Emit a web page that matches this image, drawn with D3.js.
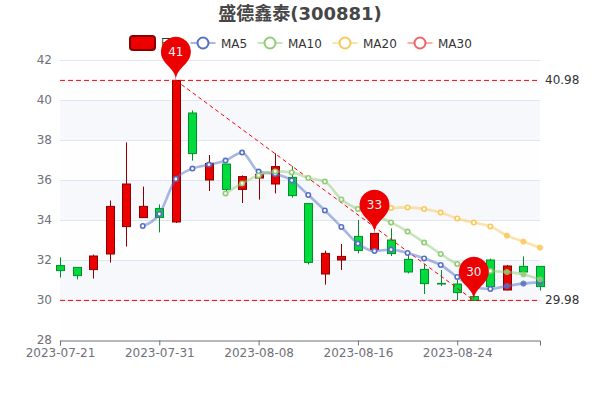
<!DOCTYPE html>
<html><head><meta charset="utf-8">
<script src="https://cdn.jsdelivr.net/npm/d3@7"></script>
<style>html,body{margin:0;padding:0;background:#fff}svg{display:block;font-family:"DejaVu Sans","Noto Sans CJK SC",sans-serif}</style>
</head><body><div id="c"></div>
<script>
const titleText = "盛德鑫泰(300881)";
const dates = ["2023-07-21","2023-07-24","2023-07-25","2023-07-26","2023-07-27","2023-07-28","2023-07-31","2023-08-01","2023-08-02","2023-08-03","2023-08-04","2023-08-07","2023-08-08","2023-08-09","2023-08-10","2023-08-11","2023-08-14","2023-08-15","2023-08-16","2023-08-17","2023-08-18","2023-08-21","2023-08-22","2023-08-23","2023-08-24","2023-08-25","2023-08-28","2023-08-29","2023-08-30","2023-08-31"];
const dateTicks = ["2023-07-21","2023-07-31","2023-08-08","2023-08-16","2023-08-24"];
const yTicks = [28,30,32,34,36,38,40,42];
const opens  = [31.72,31.63,31.52,32.30,33.67,34.12,34.57,33.90,39.35,36.00,36.80,35.53,36.10,35.80,36.13,34.82,31.30,32.00,33.18,32.52,33.00,32.03,31.53,30.83,30.80,30.17,32.00,30.50,31.68,31.68];
const closes = [31.47,31.22,32.20,34.68,35.80,34.68,34.13,40.98,37.32,36.83,35.53,36.17,36.28,36.67,35.22,31.88,32.33,32.18,32.48,33.33,32.32,31.40,30.82,30.80,30.37,29.98,30.67,31.70,31.40,30.67];
const lows   = [31.12,31.03,31.07,31.87,32.67,34.12,33.38,33.85,36.97,35.45,35.40,34.85,35.02,35.33,35.12,31.78,30.77,31.50,32.33,32.45,32.20,31.33,30.30,30.70,30.00,29.98,30.60,30.48,31.40,30.47];
const highs  = [32.13,31.63,32.27,34.97,37.88,35.67,34.78,40.98,39.48,37.25,36.80,36.23,36.30,37.33,36.70,34.82,32.47,32.80,34.00,33.33,33.58,32.30,31.80,31.50,31.00,30.17,32.07,31.75,32.18,31.68];
const ma5  = [null,null,null,null,null,33.70,34.30,36.05,36.57,36.77,36.97,37.37,36.42,36.30,35.98,35.25,34.48,33.65,32.82,32.45,32.52,32.35,32.08,31.75,31.15,30.65,30.55,30.70,30.82,30.88];
const ma10 = [null,null,null,null,null,null,null,null,null,null,35.33,35.83,36.23,36.43,36.38,36.10,35.92,35.03,34.55,34.23,33.88,33.42,32.87,32.30,31.80,31.60,31.45,31.40,31.28,31.03];
const ma20 = [null,null,null,null,null,null,null,null,null,null,null,null,null,null,null,null,null,null,null,34.55,34.60,34.63,34.55,34.37,34.08,33.87,33.68,33.22,32.92,32.62];
const ma30 = dates.map(() => null);
const seriesNames = ["MA5","MA10","MA20","MA30"];
const seriesColors = ["#5470c6","#91cc75","#fac858","#ee6666"];
const seriesValues = [ma5,ma10,ma20,ma30];
const candleName = "日K";
const hLines = [40.98,29.98];
const trendFrom = ["2023-08-01",40.98];
const trendTo = ["2023-08-25",29.98];
const pinDates = ["2023-08-01","2023-08-17","2023-08-25"];
const pinValues = [40.98,33.33,29.98];
const pinLabels = ["41","33","30"];

const W=600,H=400;
const x=d3.scalePoint().domain(dates).range([60,540]);
const y=d3.scaleLinear().domain([28,42]).range([340,60]);
const svg=d3.select("#c").append("svg").attr("width",W).attr("height",H);

// split areas
const bands=d3.pairs(yTicks);
svg.append("g").selectAll("rect").data(bands).join("rect")
  .attr("x",60).attr("width",480)
  .attr("y",d=>y(d[1])).attr("height",d=>y(d[0])-y(d[1]))
  .attr("fill",(d,i)=>i%2?"rgba(210,219,238,0.2)":"rgba(250,250,250,0.2)");
// grid
svg.append("g").selectAll("line").data(yTicks.slice(1)).join("line")
  .attr("x1",60).attr("x2",540).attr("y1",d=>Math.round(y(d))+.5).attr("y2",d=>Math.round(y(d))+.5)
  .attr("stroke","#E0E6F1");
// axes
const ax=svg.append("g").attr("transform","translate(0,340.5)")
  .call(d3.axisBottom(x).tickValues(dateTicks).tickSize(5).tickPadding(3));
ax.select(".domain").attr("stroke","#6E7079");
ax.selectAll(".tick line").attr("stroke","#6E7079");
ax.selectAll("text").attr("fill","#6E7079").style("font-size","12px").style("font-family",'"DejaVu Sans"');
const ay=svg.append("g").attr("transform","translate(60,0)")
  .call(d3.axisLeft(y).tickValues(yTicks).tickSize(0).tickPadding(8));
ay.select(".domain").remove();
ay.selectAll("text").attr("fill","#6E7079").style("font-size","12px").style("font-family",'"DejaVu Sans"');

// candles
const idx=d3.range(dates.length);
const candle=svg.append("g").selectAll("g").data(idx).join("g");
const up=i=>closes[i]>=opens[i];
const crisp=v=>Math.round(v)+.5;
candle.append("line")
  .attr("x1",i=>crisp(x(dates[i]))).attr("x2",i=>crisp(x(dates[i])))
  .attr("y1",i=>y(highs[i])).attr("y2",i=>y(lows[i]))
  .attr("stroke",i=>up(i)?"#8A0000":"#008F28");
candle.append("rect")
  .attr("x",i=>crisp(x(dates[i]))-4).attr("width",8)
  .attr("y",i=>y(Math.max(opens[i],closes[i])))
  .attr("height",i=>Math.max(.5,Math.abs(y(opens[i])-y(closes[i]))))
  .attr("fill",i=>up(i)?"#ec0000":"#00da3c")
  .attr("stroke",i=>up(i)?"#8A0000":"#008F28");

// mark lines
svg.append("g").selectAll("line").data(hLines).join("line")
  .attr("x1",60).attr("x2",540).attr("y1",d=>y(d)).attr("y2",d=>y(d))
  .attr("stroke","#f00").attr("stroke-dasharray","5,3");
svg.append("g").selectAll("text").data(hLines).join("text")
  .attr("x",545).attr("y",d=>y(d)+4).attr("fill","#333").style("font-size","12px")
  .text(d=>d.toFixed(2));
svg.append("line")
  .attr("x1",x(trendFrom[0])).attr("y1",y(trendFrom[1]))
  .attr("x2",x(trendTo[0])).attr("y2",y(trendTo[1]))
  .attr("stroke","#f00").attr("stroke-width",1).attr("stroke-dasharray","4,3");

// MA lines
const line=d3.line().defined(d=>d!=null).x((d,i)=>x(dates[i])).y(d=>y(d)).curve(d3.curveMonotoneX);
const filledFrom=27;
seriesValues.forEach((vals,k)=>{
  const g=svg.append("g");
  g.append("path").attr("d",line(vals)).attr("fill","none")
    .attr("stroke",seriesColors[k]).attr("stroke-width",2.6).attr("stroke-opacity",.5);
  g.selectAll("circle").data(idx.filter(i=>vals[i]!=null)).join("circle")
    .attr("cx",i=>x(dates[i])).attr("cy",i=>y(vals[i])).attr("r",i=>i>=filledFrom?2.6:2.2)
    .attr("fill",i=>i>=filledFrom?seriesColors[k]:"#fff")
    .attr("stroke",seriesColors[k]).attr("stroke-width",i=>i>=filledFrom?1:1.6)
    .attr("opacity",i=>i>=filledFrom?.85:1);
});

// title
svg.append("text").attr("x",300).attr("y",20).attr("text-anchor","middle")
  .attr("fill","#464646").style("font-size","18px").style("font-weight","bold").text(titleText);

// legend
const lg=svg.append("g");
lg.append("rect").attr("x",130).attr("y",36).attr("width",25).attr("height",14).attr("rx",3)
  .attr("fill","#ec0000").attr("stroke","#8A0000").attr("stroke-width",2);
lg.append("text").attr("x",160).attr("y",47.5).attr("fill","#333").style("font-size","12px").text(candleName);
const legendX=[203,270,345,420];
seriesNames.forEach((n,k)=>{
  const c=legendX[k];
  lg.append("line").attr("x1",c-12.5).attr("x2",c+12.5).attr("y1",43).attr("y2",43)
    .attr("stroke",seriesColors[k]).attr("stroke-width",2).attr("stroke-opacity",.5);
  lg.append("circle").attr("cx",c).attr("cy",43).attr("r",5.5).attr("fill","#fff")
    .attr("stroke",seriesColors[k]).attr("stroke-width",2);
  lg.append("text").attr("x",c+18).attr("y",47.5).attr("fill","#333").style("font-size","12px").text(n);
});

// pins
function pinPath(px,py,r,h){
  const dy=r*r/(h-r), cy=py-h+r+dy, a=Math.asin(dy/r), dx=Math.cos(a)*r;
  const tx=Math.sin(a), ty=Math.cos(a), c1=r*.6, c2=r*.7;
  const p=d3.path();
  p.moveTo(px-dx,cy+dy);
  p.arc(px,cy,r,Math.PI-a,Math.PI*2+a);
  p.bezierCurveTo(px+dx-tx*c1,cy+dy+ty*c1,px,py-c2,px,py);
  p.bezierCurveTo(px,py-c2,px-dx+tx*c1,cy+dy+ty*c1,px-dx,cy+dy);
  p.closePath();
  return {d:p.toString(),cy};
}
const pins=svg.append("g").selectAll("g").data(pinDates).join("g");
pins.append("path").attr("fill","#ec0000")
  .attr("d",(d,i)=>pinPath(x(d),y(pinValues[i]),15,50).d);
pins.append("text").attr("text-anchor","middle").attr("fill","#eee").style("font-size","12px")
  .attr("x",d=>x(d)).attr("y",(d,i)=>pinPath(x(d),y(pinValues[i]),15,50).cy+4.5)
  .text((d,i)=>pinLabels[i]);
</script></body></html>
